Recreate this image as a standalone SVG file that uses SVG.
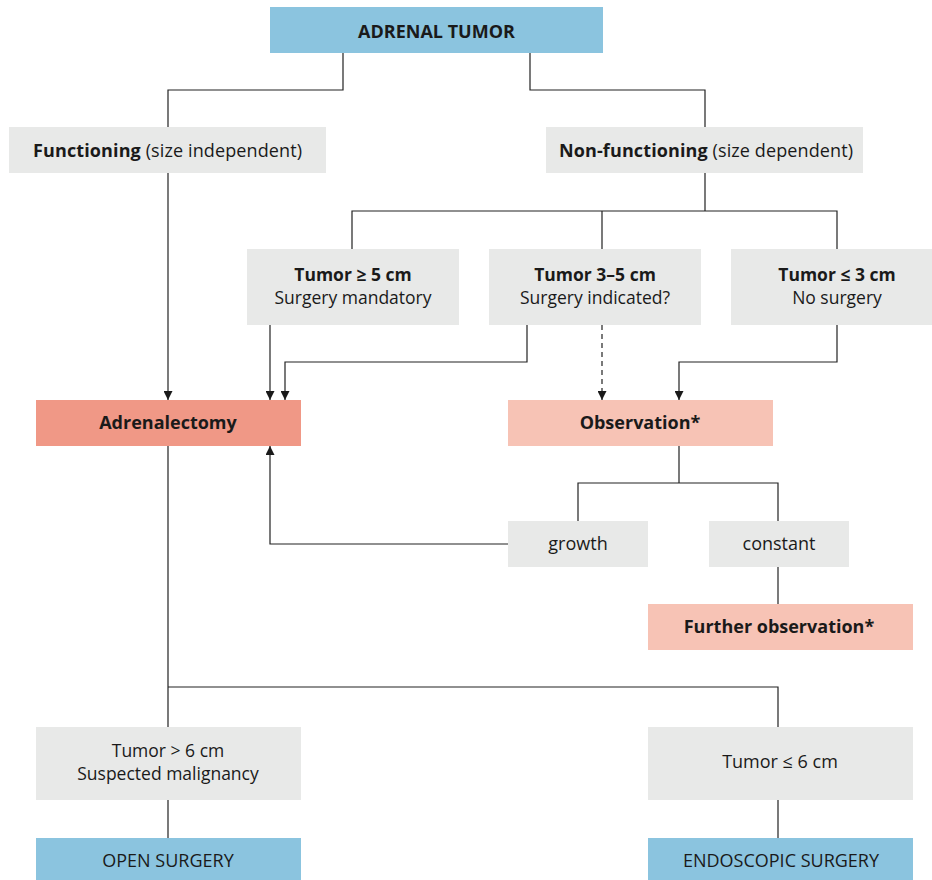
<svg xmlns="http://www.w3.org/2000/svg" width="932" height="880" viewBox="0 0 932 880">
<style>
.blue{fill:#8bc4df}.gray{fill:#e8e9e8}.red{fill:#f09886}.pink{fill:#f7c3b5}
text{font-family:"Open Sans","Noto Sans",sans-serif;font-size:18px;fill:#1a1a1a;text-anchor:middle}
.b{font-weight:bold}
.t2{font-size:17.5px}
.ln{fill:none;stroke:#222;stroke-width:1.2}
.dash{stroke-dasharray:5 4}
</style>
<defs>
<marker id="ah" viewBox="0 0 10 10" refX="10" refY="5" markerWidth="9" markerHeight="9" markerUnits="userSpaceOnUse" orient="auto">
<path d="M0,0 L10,5 L0,10 z" fill="#1a1a1a"/>
</marker>
</defs>
<g id="connectors">
<path class="ln" d="M343,53 V90 H168 V127"/>
<path class="ln" d="M530,53 V90 H705 V127"/>
<path class="ln" d="M705,173 V211 M352,249 V211 H837 V249 M602,211 V249"/>
<path class="ln" d="M168,173 V400" marker-end="url(#ah)"/>
<path class="ln" d="M270,325 V400" marker-end="url(#ah)"/>
<path class="ln" d="M527,325 V362 H285 V400" marker-end="url(#ah)"/>
<path class="ln dash" d="M602,325 V400" marker-end="url(#ah)"/>
<path class="ln" d="M837,325 V362 H679 V400" marker-end="url(#ah)"/>
<path class="ln" d="M679,446 V483 M578,521 V483 H778 V521"/>
<path class="ln" d="M508,544 H270 V446" marker-end="url(#ah)"/>
<path class="ln" d="M778,567 V604"/>
<path class="ln" d="M168,446 V727 M168,687 H778 V727"/>
<path class="ln" d="M168,800 V838 M778,800 V838"/>
</g>
<g id="adrenal-tumor"><rect class="blue" x="270" y="7" width="333" height="46"/><text class="b" x="436.5" y="37.5" font-size="20">ADRENAL TUMOR</text></g>
<g id="functioning"><rect class="gray" x="9" y="127" width="317" height="46"/><text x="167.5" y="157" textLength="269"><tspan class="b">Functioning</tspan> (size independent)</text></g>
<g id="non-functioning"><rect class="gray" x="546" y="127" width="317" height="46"/><text x="706" y="157" textLength="294"><tspan class="b">Non-functioning</tspan> (size dependent)</text></g>
<g id="tumor-ge5"><rect class="gray" x="247" y="249" width="212" height="76"/><text class="b t2" x="353" y="281">Tumor ≥ 5 cm</text><text class="t2" x="353" y="303.5">Surgery mandatory</text></g>
<g id="tumor-3-5"><rect class="gray" x="489" y="249" width="212" height="76"/><text class="b t2" x="595" y="281">Tumor 3–5 cm</text><text class="t2" x="595" y="303.5">Surgery indicated?</text></g>
<g id="tumor-le3"><rect class="gray" x="731" y="249" width="201" height="76"/><text class="b t2" x="837" y="281">Tumor ≤ 3 cm</text><text class="t2" x="837" y="303.5">No surgery</text></g>
<g id="adrenalectomy"><rect class="red" x="36" y="400" width="265" height="46"/><text class="b" x="168" y="429">Adrenalectomy</text></g>
<g id="observation"><rect class="pink" x="508" y="400" width="265" height="46"/><text class="b" x="640" y="429">Observation*</text></g>
<g id="growth"><rect class="gray" x="508" y="521" width="140" height="46"/><text x="578" y="550">growth</text></g>
<g id="constant"><rect class="gray" x="709" y="521" width="140" height="46"/><text x="779" y="550">constant</text></g>
<g id="further-observation"><rect class="pink" x="648" y="604" width="265" height="46"/><text class="b" x="779" y="633">Further observation*</text></g>
<g id="tumor-gt6"><rect class="gray" x="36" y="727" width="265" height="73"/><text class="t2" x="168" y="757">Tumor &gt; 6 cm</text><text class="t2" x="168" y="779.5">Suspected malignancy</text></g>
<g id="tumor-le6"><rect class="gray" x="648" y="727" width="265" height="73"/><text x="780" y="768">Tumor ≤ 6 cm</text></g>
<g id="open-surgery"><rect class="blue" x="36" y="838" width="265" height="42"/><text x="168" y="867">OPEN SURGERY</text></g>
<g id="endoscopic-surgery"><rect class="blue" x="648" y="838" width="265" height="42"/><text x="781" y="867">ENDOSCOPIC SURGERY</text></g>
</svg>
